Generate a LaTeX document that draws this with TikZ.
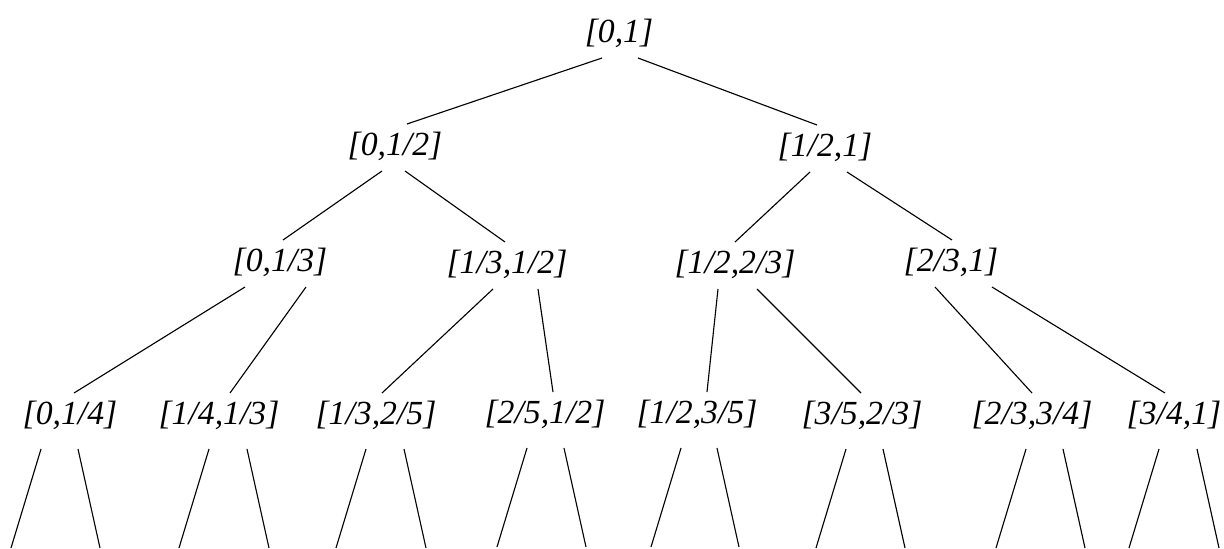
\documentclass[tikz,border=0pt]{standalone}
\usepackage{fontspec}
\setmainfont{Liberation Serif}
\usetikzlibrary{calc}

\begin{document}
\begin{tikzpicture}[x=0.025cm, y=-0.025cm,
    iv/.style={font=\fontsize{24}{28}\selectfont\itshape, inner sep=0pt},
    edge/.style={line width=0.8pt, black}]
    \useasboundingbox (0,0) rectangle (1224,548);

    % Root and first split
    \node[iv] (t)  at (619,33)  {[0,1]};
    \node[iv] (t0) at (395,146) {[0,1/2]};
    \node[iv] (t1) at (825,147) {[1/2,1]};

    % Second split
    \node[iv] (t00) at (280,262) {[0,1/3]};
    \node[iv] (t01) at (507,264) {[1/3,1/2]};
    \node[iv] (t10) at (735,264) {[1/2,2/3]};
    \node[iv] (t11) at (951,262) {[2/3,1]};

    % Third split
    \node[iv] (t000) at (70,415)   {[0,1/4]};
    \node[iv] (t001) at (219,415)  {[1/4,1/3]};
    \node[iv] (t010) at (376,415)  {[1/3,2/5]};
    \node[iv] (t011) at (545,414)  {[2/5,1/2]};
    \node[iv] (t100) at (697,414)  {[1/2,3/5]};
    \node[iv] (t101) at (862,415)  {[3/5,2/3]};
    \node[iv] (t110) at (1032,415) {[2/3,3/4]};
    \node[iv] (t111) at (1174,415) {[3/4,1]};

    % Edges: parent / x shift at parent / child / x shift at child
    \foreach \p/\pdx/\c/\cdx in {t/-17/t0/12, t/19/t1/-8,
        t0/-13/t00/3, t0/10/t01/-2, t1/-15/t10/0, t1/22/t11/1,
        t00/-35/t000/4, t00/26/t001/11, t01/-14/t010/6, t01/31/t011/8,
        t10/-17/t100/10, t10/22/t101/-1, t11/-16/t110/0, t11/41/t111/-9}
      \draw[edge] ($(\p)+(\pdx,25)$) -- ($(\c)+(\cdx,-22)$);

    % Open branches below the last row
    \foreach \n/\lx/\rx in {t000/-29/8, t001/-10/28, t010/-10/28, t011/-18/19,
        t100/-16/20, t101/-16/21, t110/-6/31, t111/-15/23} {
      \draw[edge] ($(\n)+(\lx,34)$) -- ++(-30,99);
      \draw[edge] ($(\n)+(\rx,34)$) -- ++(22,99);
    }
\end{tikzpicture}
\end{document}
